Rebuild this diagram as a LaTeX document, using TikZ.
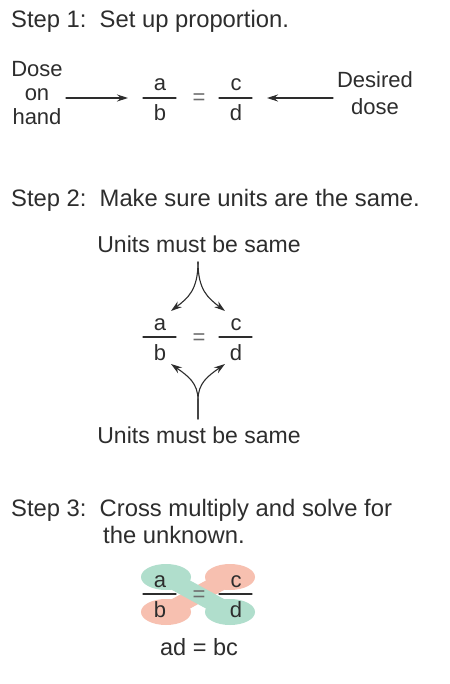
\documentclass[tikz,border=0pt]{standalone}
\usepackage{fontspec}
\setmainfont{Liberation Sans}
\usetikzlibrary{arrows.meta}
\definecolor{ink}{RGB}{45,45,45}
\definecolor{crossgreen}{RGB}{176,222,204}
\definecolor{crossred}{RGB}{247,192,176}
% a/b = c/d, #1 prefix of the node names, #2 height of the bars
\newcommand{\fracpair}[2]{%
  \node[letter] (#1a) at (160,#2-7) {a};
  \node[letter] (#1b) at (160,#2+23) {b};
  \node[letter] (#1c) at (236,#2-7) {c};
  \node[letter] (#1d) at (236,#2+23) {d};
  \node[letter,text=ink!70] (#1eq) at (199,#2+7) {=};
  \draw[ink,line width=1.1pt] (143,#2) -- (176,#2) (219,#2) -- (252,#2);
}
\begin{document}
\begin{tikzpicture}[x=1pt,y=-1pt,>=Stealth,line join=round,line cap=round,
  heading/.style={anchor=base west,inner sep=0pt,text=ink,font=\fontsize{23.8}{28}\selectfont},
  label/.style={inner sep=0pt,align=center,text=ink,font=\fontsize{22}{24}\selectfont},
  letter/.style={anchor=base,inner sep=0pt,text=ink,font=\fontsize{22}{24}\selectfont},
  arr/.style={->,ink,line width=1.1pt,>={Stealth[length=11pt,width=7pt]}}]
  \useasboundingbox[fill=white] (0,0) rectangle (449,684);
  % Step 1
  \node[heading] (step1) at (11,28) {Step 1:\hspace{0.55em}Set up proportion.};
  \fracpair{s1}{98}
  \node[label,anchor=base] (onhand) at (37,125) {Dose\\on\\hand};
  \node[label,anchor=base] (desired) at (375,115) {Desired\\[3pt]dose};
  \coordinate (onhandstart) at (66,98);
  \coordinate (onhandend) at (128,98);
  \coordinate (desiredstart) at (333,98);
  \coordinate (desiredend) at (267,98);
  \draw[arr] (onhandstart) -- (onhandend);
  \draw[arr] (desiredstart) -- (desiredend);
  % Step 2
  \node[heading] (step2) at (11,207) {Step 2:\hspace{0.55em}Make sure units are the same.};
  \node[letter,font=\fontsize{23}{26}\selectfont] (unitstop) at (199,252) {Units must be same};
  \node[letter,font=\fontsize{23}{26}\selectfont] (unitsbot) at (199,443) {Units must be same};
  \fracpair{s2}{337}
  \coordinate (topfork) at (198,262);
  \coordinate (botfork) at (198,419);
  \draw[arr] (topfork) .. controls (198,290) and (188,298) .. (171,311);
  \draw[arr] (topfork) .. controls (198,290) and (208,298) .. (225,311);
  \draw[arr] (botfork) -- (198,400) .. controls (198,383) and (188,376) .. (171,364);
  \draw[arr] (botfork) -- (198,400) .. controls (198,383) and (208,376) .. (225,364);
  % Step 3
  \node[heading] (step3) at (11,516) {Step 3:\hspace{0.55em}Cross multiply and solve for};
  \node[heading] (step3b) at (103,543) {the unknown.};
  \fill[crossred] (230,577) ellipse [x radius=25,y radius=13] (166,612) ellipse [x radius=25,y radius=13];
  \draw[crossred,line width=17pt] (230,577) -- (166,612);
  \fill[crossgreen] (166,577) ellipse [x radius=25,y radius=13] (230,612) ellipse [x radius=25,y radius=13];
  \draw[crossgreen,line width=17pt] (166,577) -- (230,612);
  \fracpair{s3}{594}
  \node[letter,font=\fontsize{23.5}{26}\selectfont] (cross) at (199,655) {ad = bc};
\end{tikzpicture}
\end{document}
